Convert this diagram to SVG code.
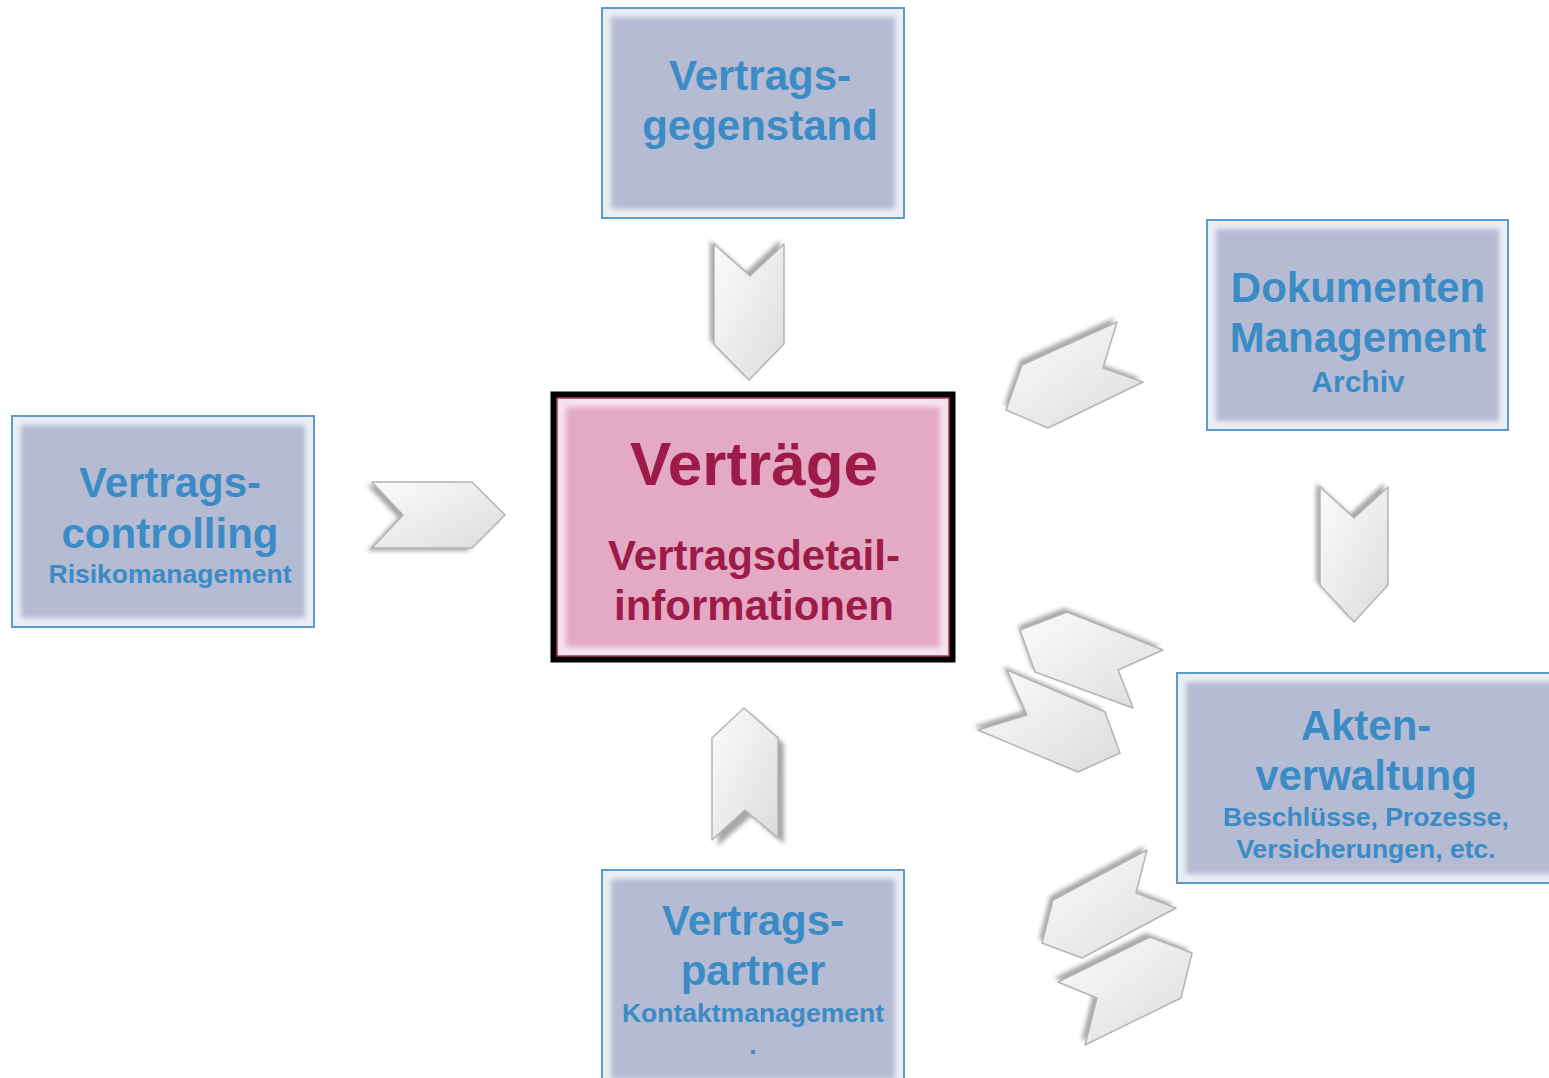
<svg xmlns="http://www.w3.org/2000/svg" width="1549" height="1078" viewBox="0 0 1549 1078">
<defs>
<style>
.box{fill:#eceef6;stroke:#5b9ccb;stroke-width:2}
.fill{fill:#b5bbd3;filter:url(#soft)}
.t{font-family:"Liberation Sans",Arial,sans-serif;font-weight:bold;fill:#3b8cc6;text-anchor:middle}
.big{font-size:42px}
.sm{font-size:26.5px}
.pk{font-family:"Liberation Sans",Arial,sans-serif;font-weight:bold;fill:#9c1c47;text-anchor:middle}
.chev{fill:url(#cg);stroke:#b4b4b4;stroke-width:1.5;stroke-linejoin:round}
.sh{fill:#8a8a8a;opacity:0.75;filter:url(#blur)}
</style>
<filter id="soft" x="-5%" y="-5%" width="110%" height="110%"><feGaussianBlur stdDeviation="2.5"/></filter>
<filter id="blur" x="-20%" y="-20%" width="140%" height="140%"><feGaussianBlur stdDeviation="2"/></filter>
<linearGradient id="cg" x1="0" y1="0" x2="1" y2="1">
<stop offset="0" stop-color="#fbfbfb"/>
<stop offset="0.5" stop-color="#ececec"/>
<stop offset="1" stop-color="#dcdcdc"/>
</linearGradient>
</defs>

<g id="connectors">
<polygon class="sh" points="710,240 746,272 780,240 780,340 745,376 710,340"/>
<polygon class="chev" points="714,244 750,276 784,244 784,344 749,380 714,344"/>
<polygon class="sh" points="750,714 784,744 784,844 751,816 718,846 718,744"/>
<polygon class="chev" points="744,708 778,738 778,838 745,810 712,840 712,738"/>
<polygon class="sh" points="367,485 467,485 500,518 467,551 367,551 398,518"/>
<polygon class="chev" points="372,482 472,482 505,515 472,548 372,548 403,515"/>
<polygon class="sh" points="1316,483 1350,514 1384,483 1384,581 1350,618 1316,581"/>
<polygon class="chev" points="1320,487 1354,518 1388,487 1388,585 1354,622 1320,585"/>
<polygon class="sh" points="1020,360 1114,318 1100,364 1140,378 1046,424 1004,405"/>
<polygon class="chev" points="1022,365 1117,322 1103,368 1143,382 1048,428 1006,410"/>
<polygon class="sh" points="1018,626 1064,608 1160,646 1114,666 1130,704 1032,668"/>
<polygon class="chev" points="1020,630 1067,612 1163,650 1118,670 1133,708 1035,672"/>
<polygon class="sh" points="1003,666 1101,708 1116,749 1074,768 974,726 1023,711"/>
<polygon class="chev" points="1007,670 1105,712 1120,753 1078,772 978,730 1027,715"/>
<polygon class="sh" points="1050,896 1144,846 1133,889 1173,904 1079,954 1039,939"/>
<polygon class="chev" points="1053,900 1147,850 1136,893 1176,908 1082,958 1042,943"/>
<polygon class="sh" points="1054,978 1146,933 1188,949 1177,994 1081,1041 1093,994"/>
<polygon class="chev" points="1058,982 1150,937 1192,953 1181,998 1085,1045 1097,998"/>
</g>

<g id="node-gegenstand">
<rect class="box" x="602" y="8" width="302" height="210"/>
<rect class="fill" x="611" y="17" width="284" height="192"/>
<text class="t big" x="760" y="90">Vertrags-</text>
<text class="t big" x="760" y="140">gegenstand</text>
</g>

<g id="node-dokumenten">
<rect class="box" x="1207" y="220" width="301" height="210"/>
<rect class="fill" x="1216" y="229" width="283" height="192"/>
<text class="t big" x="1358" y="302">Dokumenten</text>
<text class="t big" x="1358" y="352">Management</text>
<text class="t" font-size="30" x="1358" y="392">Archiv</text>
</g>

<g id="node-controlling">
<rect class="box" x="12" y="416" width="302" height="211"/>
<rect class="fill" x="21" y="425" width="284" height="193"/>
<text class="t big" x="170" y="497">Vertrags-</text>
<text class="t big" x="170" y="548">controlling</text>
<text class="t sm" x="170" y="583">Risikomanagement</text>
</g>

<g id="node-vertraege">
<rect x="553" y="394" width="400" height="266" fill="#000" stroke="#000" stroke-width="5"/>
<rect x="557" y="398" width="392" height="258" fill="#f6e3ec" stroke="#a63462" stroke-width="1.5"/>
<rect x="566" y="407" width="374" height="240" fill="#e4a9c3" filter="url(#soft)"/>
<text class="pk" font-size="62" x="754" y="485">Verträge</text>
<text class="pk" font-size="42" x="754" y="570">Vertragsdetail-</text>
<text class="pk" font-size="42" x="754" y="620">informationen</text>
</g>

<g id="node-akten">
<rect class="box" x="1177" y="673" width="390" height="210"/>
<rect class="fill" x="1186" y="682" width="372" height="192"/>
<text class="t big" x="1366" y="740">Akten-</text>
<text class="t big" x="1366" y="790">verwaltung</text>
<text class="t sm" x="1366" y="826">Beschlüsse, Prozesse,</text>
<text class="t sm" x="1366" y="858">Versicherungen, etc.</text>
</g>

<g id="node-partner">
<rect class="box" x="602" y="870" width="302" height="216"/>
<rect class="fill" x="611" y="879" width="284" height="200"/>
<text class="t big" x="753" y="935">Vertrags-</text>
<text class="t big" x="753" y="985">partner</text>
<text class="t sm" x="753" y="1022">Kontaktmanagement</text>
<text class="t sm" x="753" y="1054">.</text>
</g>
</svg>
